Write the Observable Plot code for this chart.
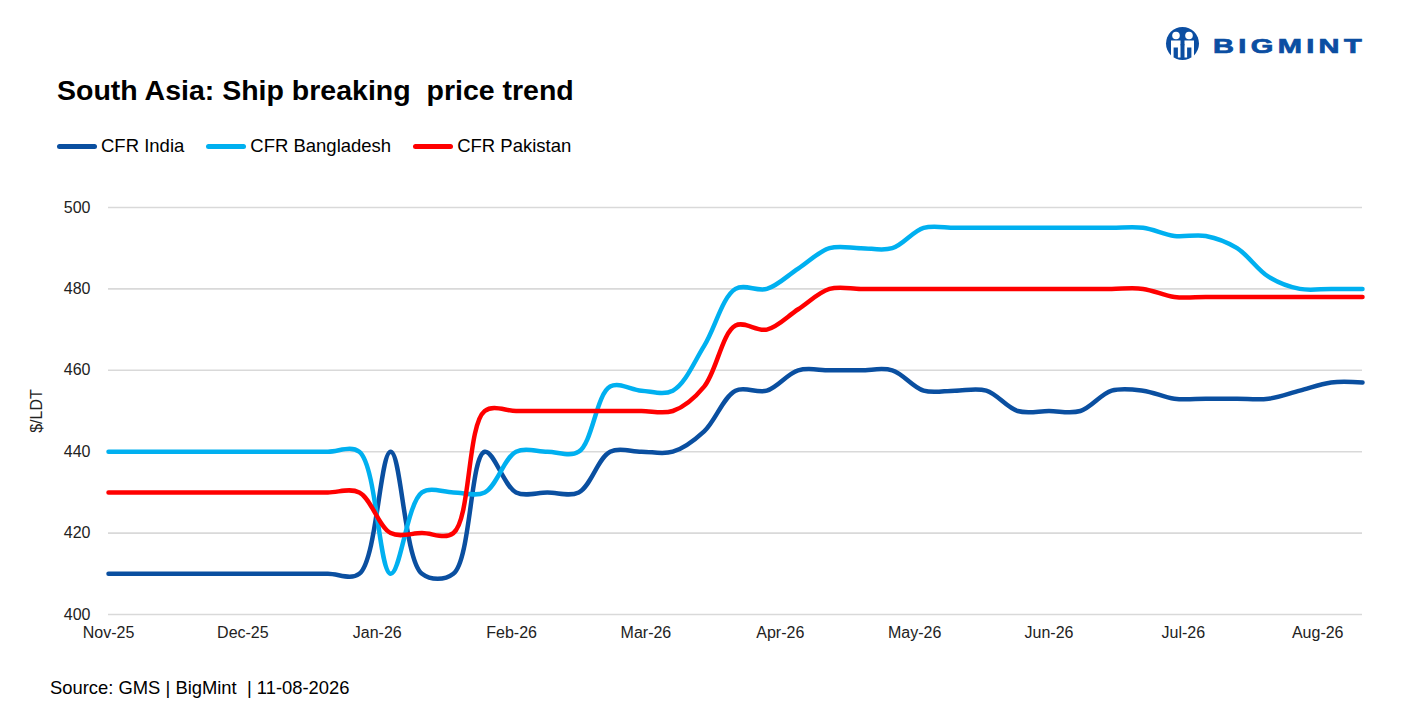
<!DOCTYPE html>
<html>
<head>
<meta charset="utf-8">
<script src="https://cdn.jsdelivr.net/npm/d3@7"></script>
<script src="https://cdn.jsdelivr.net/npm/@observablehq/plot@0.6"></script>
<style>
  html, body { margin: 0; padding: 0; background: #fff; }
  body { width: 1420px; height: 710px; position: relative; overflow: hidden; font-family: "Liberation Sans", Arial, sans-serif; color: #000; }
  #title { position: absolute; left: 57px; top: 76px; font-size: 28.5px; font-weight: bold; line-height: 1; white-space: pre; }
  #legend { position: absolute; left: 57px; top: 135px; font-size: 18.5px; display: flex; align-items: center; }
  .item { display: flex; align-items: center; margin-right: 22px; }
  .sw { width: 40px; height: 5px; border-radius: 3px; margin-right: 4px; }
  #chart { position: absolute; left: 0; top: 180px; }
  #source { position: absolute; left: 50px; top: 677px; font-size: 18.4px; white-space: pre; }
  #logo { position: absolute; left: 1158px; top: 24px; }
</style>
</head>
<body>
<div id="title">South Asia: Ship breaking  price trend</div>
<div id="legend"></div>
<div id="chart"></div>
<div id="source">Source: GMS | BigMint  | 11-08-2026</div>
<svg id="logo" width="215" height="44" viewBox="0 0 215 44">
  <circle cx="24.5" cy="19.5" r="16.5" fill="#0b4ea2"/>
  <circle cx="18" cy="11.5" r="3.8" fill="#fff"/>
  <circle cx="31" cy="11.5" r="3.8" fill="#fff"/>
  <path d="M13 16.5 h9.5 v17 h-2.6 v-10 h-4.3 v10 h-2.6 z" fill="#fff"/>
  <path d="M26.5 16.5 h9.5 v17 h-2.6 v-10 h-4.3 v10 h-2.6 z" fill="#fff"/>
  <path d="M22.5 20 l2 9 l2 -9 z" fill="#0b4ea2"/>
  <text x="55" y="28.5" font-family="Liberation Sans, Arial, sans-serif" font-weight="bold" font-size="20" letter-spacing="3" textLength="153" lengthAdjust="spacingAndGlyphs" fill="#0b4ea2" stroke="#0b4ea2" stroke-width="0.7">BIGMINT</text>
</svg>
<script>
// ---- data ----
const firstWeek = new Date(Date.UTC(2025, 10, 4));   // first weekly observation
const lastWeek  = new Date(Date.UTC(2026, 7, 11));   // last weekly observation
const seriesNames = ["CFR India", "CFR Bangladesh", "CFR Pakistan"];
const seriesColors = ["#0a4fa0", "#00b0f0", "#ff0000"];
const cfrIndia = [410,410,410,410,410,410,410,410,410,440,410,410,440,430,430,430,440,440,440,445,455,455,460,460,460,460,455,455,455,450,450,450,455,455,453,453,453,453,455,457,457];
const cfrBangladesh = [440,440,440,440,440,440,440,440,440,410,430,430,430,440,440,440,456,455,455,466,480,480,485,490,490,490,495,495,495,495,495,495,495,495,493,493,490,483,480,480,480];
const cfrPakistan = [430,430,430,430,430,430,430,430,430,420,420,420,450,450,450,450,450,450,450,456,471,470,475,480,480,480,480,480,480,480,480,480,480,480,478,478,478,478,478,478,478];
const yTicks = [400, 420, 440, 460, 480, 500];
const monthLabels = ["Nov-25","Dec-25","Jan-26","Feb-26","Mar-26","Apr-26","May-26","Jun-26","Jul-26","Aug-26"];
const tickStepDays = 30;

// ---- build ----
const weeks = d3.utcDay.range(firstWeek, d3.utcDay.offset(lastWeek, 1), 7);
const valueSets = [cfrIndia, cfrBangladesh, cfrPakistan];
const rows = seriesNames.flatMap((name, s) => weeks.map((date, i) => ({date, value: valueSets[s][i], series: name})));
const xTicks = monthLabels.map((_, k) => d3.utcDay.offset(firstWeek, k * tickStepDays));
const labelFor = new Map(xTicks.map((d, k) => [+d, monthLabels[k]]));

const legend = document.getElementById("legend");
seriesNames.forEach((n, i) => {
  const it = document.createElement("div");
  it.className = "item";
  it.innerHTML = `<span class="sw" style="background:${seriesColors[i]}"></span><span>${n}</span>`;
  legend.appendChild(it);
});

const plot = Plot.plot({
  width: 1420,
  height: 474,
  marginLeft: 108,
  marginRight: 58,
  marginTop: 27,
  marginBottom: 40,
  style: {fontFamily: "Liberation Sans, Arial, sans-serif", fontSize: "16px", color: "#222", background: "transparent"},
  x: {type: "utc", domain: [firstWeek, lastWeek]},
  y: {domain: [400, 500]},
  color: {domain: seriesNames, range: seriesColors},
  marks: [
    Plot.gridY(yTicks, {stroke: "#d9d9d9", strokeOpacity: 1, strokeWidth: 1.6}),
    Plot.axisY(yTicks, {tickSize: 0, tickPadding: 18, label: "$/LDT", labelAnchor: "center", labelArrow: "none", labelOffset: 78, fontSize: 16}),
    Plot.axisX(xTicks, {tickSize: 0, tickPadding: 12, tickFormat: d => labelFor.get(+d), label: null, fontSize: 16}),
    Plot.line(rows, {x: "date", y: "value", z: "series", stroke: "series", strokeWidth: 4.5, curve: "catmull-rom", strokeLinecap: "round", strokeLinejoin: "round"})
  ]
});
document.getElementById("chart").appendChild(plot);
</script>
</body>
</html>
